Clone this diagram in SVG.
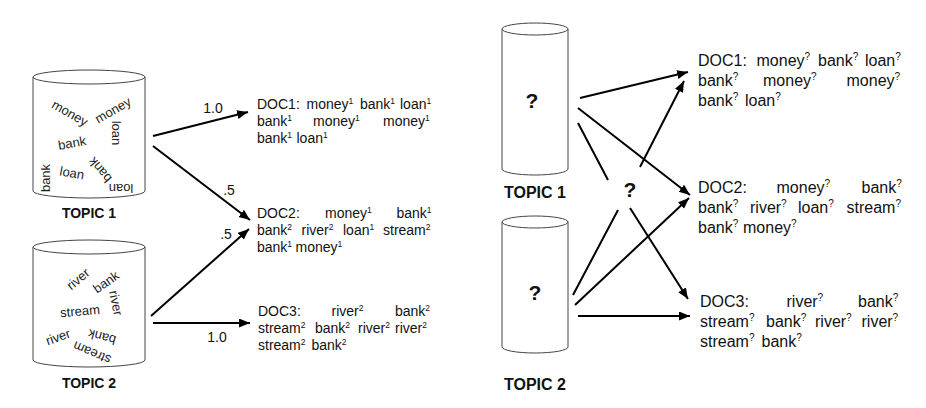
<svg xmlns="http://www.w3.org/2000/svg" width="926" height="408" viewBox="0 0 926 408">
<defs>
<marker id="ah" markerUnits="userSpaceOnUse" markerWidth="12" markerHeight="10" refX="11" refY="4.5" orient="auto">
<path d="M0,0 L11,4.5 L0,9 z" fill="#000"/>
</marker>
</defs>
<style>
.cyl{fill:#fff;stroke:#444;stroke-width:1}
.w{font-family:"Liberation Sans",Arial,sans-serif;font-size:13px;fill:#222;text-anchor:middle;dominant-baseline:central}
.lbl{font-family:"Liberation Sans",Arial,sans-serif;font-weight:bold;fill:#111;text-anchor:middle}
.doc{font-family:"Liberation Sans",Arial,sans-serif;font-size:14px;fill:#111}
.docr{font-family:"Liberation Sans",Arial,sans-serif;font-size:16px;fill:#111}
.s{font-size:8.5px}
.sr{font-size:10px}
.num{font-family:"Liberation Sans",Arial,sans-serif;font-size:14px;fill:#111;text-anchor:middle}
.q{font-family:"Liberation Sans",Arial,sans-serif;font-weight:bold;font-size:21px;fill:#111;text-anchor:middle}
.ln{stroke:#000;stroke-width:2;fill:none}
</style>

<g id="topic1-left">
<path class="cyl" d="M33,77 L33,191 A56,7 0 0 0 145,191 L145,77"/>
<ellipse class="cyl" cx="89" cy="77" rx="56" ry="7"/>
<text class="w" transform="translate(70,113) rotate(30)">money</text>
<text class="w" transform="translate(113,110) rotate(-30)">money</text>
<text class="w" transform="translate(116,133) rotate(90)">loan</text>
<text class="w" transform="translate(72,143) rotate(-10)">bank</text>
<text class="w" transform="translate(45,178) rotate(-90)">bank</text>
<text class="w" transform="translate(72,173) rotate(10)">loan</text>
<text class="w" transform="translate(100,170) rotate(230)">bank</text>
<text class="w" transform="translate(121,188) rotate(180)">loan</text>
<text class="lbl" x="89" y="218" font-size="14">TOPIC 1</text>
</g>

<g id="topic2-left">
<path class="cyl" d="M33,247 L33,360 A56,7 0 0 0 145,360 L145,247"/>
<ellipse class="cyl" cx="89" cy="247" rx="56" ry="7"/>
<text class="w" transform="translate(78,279) rotate(-40)">river</text>
<text class="w" transform="translate(106,282) rotate(-35)">bank</text>
<text class="w" transform="translate(116,303) rotate(78)">river</text>
<text class="w" transform="translate(80,311) rotate(-5)">stream</text>
<text class="w" transform="translate(58,337) rotate(-20)">river</text>
<text class="w" transform="translate(102,337) rotate(195)">bank</text>
<text class="w" transform="translate(92,353) rotate(203)">stream</text>
<text class="lbl" x="89" y="388" font-size="14">TOPIC 2</text>
</g>

<g id="doc1-left">
<text class="doc">
<tspan x="257" y="109">DOC1:</tspan>
<tspan x="306.5" y="109">money</tspan><tspan class="s" dy="-5">1</tspan>
<tspan x="360" y="109">bank</tspan><tspan class="s" dy="-5">1</tspan>
<tspan x="400" y="109">loan</tspan><tspan class="s" dy="-5">1</tspan>
<tspan x="257" y="126">bank</tspan><tspan class="s" dy="-5">1</tspan>
<tspan x="313" y="126">money</tspan><tspan class="s" dy="-5">1</tspan>
<tspan x="383" y="126">money</tspan><tspan class="s" dy="-5">1</tspan>
<tspan x="257" y="143">bank</tspan><tspan class="s" dy="-5">1</tspan>
<tspan x="296.5" y="143">loan</tspan><tspan class="s" dy="-5">1</tspan>
</text>
</g>

<g id="doc2-left">
<text class="doc">
<tspan x="257" y="218">DOC2:</tspan>
<tspan x="325" y="218">money</tspan><tspan class="s" dy="-5">1</tspan>
<tspan x="396.5" y="218">bank</tspan><tspan class="s" dy="-5">1</tspan>
<tspan x="257" y="235">bank</tspan><tspan class="s" dy="-5">2</tspan>
<tspan x="301.5" y="235">river</tspan><tspan class="s" dy="-5">2</tspan>
<tspan x="343" y="235">loan</tspan><tspan class="s" dy="-5">1</tspan>
<tspan x="383" y="235">stream</tspan><tspan class="s" dy="-5">2</tspan>
<tspan x="257" y="252">bank</tspan><tspan class="s" dy="-5">1</tspan>
<tspan x="295.5" y="252">money</tspan><tspan class="s" dy="-5">1</tspan>
</text>
</g>

<g id="doc3-left">
<text class="doc">
<tspan x="258" y="316">DOC3:</tspan>
<tspan x="331.5" y="316">river</tspan><tspan class="s" dy="-5">2</tspan>
<tspan x="395" y="316">bank</tspan><tspan class="s" dy="-5">2</tspan>
<tspan x="258" y="333">stream</tspan><tspan class="s" dy="-5">2</tspan>
<tspan x="315" y="333">bank</tspan><tspan class="s" dy="-5">2</tspan>
<tspan x="358" y="333">river</tspan><tspan class="s" dy="-5">2</tspan>
<tspan x="395" y="333">river</tspan><tspan class="s" dy="-5">2</tspan>
<tspan x="258" y="350">stream</tspan><tspan class="s" dy="-5">2</tspan>
<tspan x="311.5" y="350">bank</tspan><tspan class="s" dy="-5">2</tspan>
</text>
</g>

<g id="topic1-right">
<path class="cyl" d="M502,29 L502,169 A33,6 0 0 0 568,169 L568,29"/>
<ellipse class="cyl" cx="535" cy="29" rx="33" ry="6"/>
<text class="q" x="532" y="108">?</text>
<text class="lbl" x="535" y="198" font-size="16">TOPIC 1</text>
</g>

<g id="topic2-right">
<path class="cyl" d="M502,222 L502,347 A33,6 0 0 0 568,347 L568,222"/>
<ellipse class="cyl" cx="535" cy="222" rx="33" ry="6"/>
<text class="q" x="535" y="300">?</text>
<text class="lbl" x="535" y="390" font-size="16">TOPIC 2</text>
</g>

<g id="hidden">
<text class="q" x="630" y="197">?</text>
</g>

<g id="doc1-right">
<text class="docr">
<tspan x="698" y="66">DOC1:</tspan>
<tspan x="756.5" y="66">money</tspan><tspan class="sr" dy="-6">?</tspan>
<tspan x="818" y="66">bank</tspan><tspan class="sr" dy="-6">?</tspan>
<tspan x="865" y="66">loan</tspan><tspan class="sr" dy="-6">?</tspan>
<tspan x="698" y="86">bank</tspan><tspan class="sr" dy="-6">?</tspan>
<tspan x="763" y="86">money</tspan><tspan class="sr" dy="-6">?</tspan>
<tspan x="846.5" y="86">money</tspan><tspan class="sr" dy="-6">?</tspan>
<tspan x="698" y="106">bank</tspan><tspan class="sr" dy="-6">?</tspan>
<tspan x="745" y="106">loan</tspan><tspan class="sr" dy="-6">?</tspan>
</text>
</g>

<g id="doc2-right">
<text class="docr">
<tspan x="698" y="193">DOC2:</tspan>
<tspan x="776.5" y="193">money</tspan><tspan class="sr" dy="-6">?</tspan>
<tspan x="861.5" y="193">bank</tspan><tspan class="sr" dy="-6">?</tspan>
<tspan x="698" y="213">bank</tspan><tspan class="sr" dy="-6">?</tspan>
<tspan x="750" y="213">river</tspan><tspan class="sr" dy="-6">?</tspan>
<tspan x="798" y="213">loan</tspan><tspan class="sr" dy="-6">?</tspan>
<tspan x="846.5" y="213">stream</tspan><tspan class="sr" dy="-6">?</tspan>
<tspan x="698" y="233">bank</tspan><tspan class="sr" dy="-6">?</tspan>
<tspan x="743" y="233">money</tspan><tspan class="sr" dy="-6">?</tspan>
</text>
</g>

<g id="doc3-right">
<text class="docr">
<tspan x="700" y="307">DOC3:</tspan>
<tspan x="786.5" y="307">river</tspan><tspan class="sr" dy="-6">?</tspan>
<tspan x="858" y="307">bank</tspan><tspan class="sr" dy="-6">?</tspan>
<tspan x="700" y="327">stream</tspan><tspan class="sr" dy="-6">?</tspan>
<tspan x="766" y="327">bank</tspan><tspan class="sr" dy="-6">?</tspan>
<tspan x="815" y="327">river</tspan><tspan class="sr" dy="-6">?</tspan>
<tspan x="861.5" y="327">river</tspan><tspan class="sr" dy="-6">?</tspan>
<tspan x="700" y="347">stream</tspan><tspan class="sr" dy="-6">?</tspan>
<tspan x="761.5" y="347">bank</tspan><tspan class="sr" dy="-6">?</tspan>
</text>
</g>

<g id="connectors">
<line class="ln" x1="153" y1="136" x2="248" y2="112" marker-end="url(#ah)"/>
<line class="ln" x1="153" y1="146" x2="250" y2="220" marker-end="url(#ah)"/>
<line class="ln" x1="151" y1="316" x2="249" y2="229" marker-end="url(#ah)"/>
<line class="ln" x1="153" y1="323" x2="250" y2="323" marker-end="url(#ah)"/>
<text class="num" x="213" y="113">1.0</text>
<text class="num" x="229" y="195">.5</text>
<text class="num" x="226" y="239">.5</text>
<text class="num" x="217" y="342">1.0</text>

<line class="ln" x1="580" y1="98" x2="688" y2="72" marker-end="url(#ah)"/>
<line class="ln" x1="578" y1="108" x2="690" y2="195" marker-end="url(#ah)"/>
<line class="ln" x1="578" y1="123" x2="608" y2="180"/>
<line class="ln" x1="640" y1="167" x2="684" y2="81" marker-end="url(#ah)"/>
<line class="ln" x1="630" y1="208" x2="688" y2="299" marker-end="url(#ah)"/>
<line class="ln" x1="573" y1="295" x2="618" y2="210"/>
<line class="ln" x1="575" y1="305" x2="689" y2="198" marker-end="url(#ah)"/>
<line class="ln" x1="578" y1="316" x2="690" y2="316" marker-end="url(#ah)"/>
</g>
</svg>
